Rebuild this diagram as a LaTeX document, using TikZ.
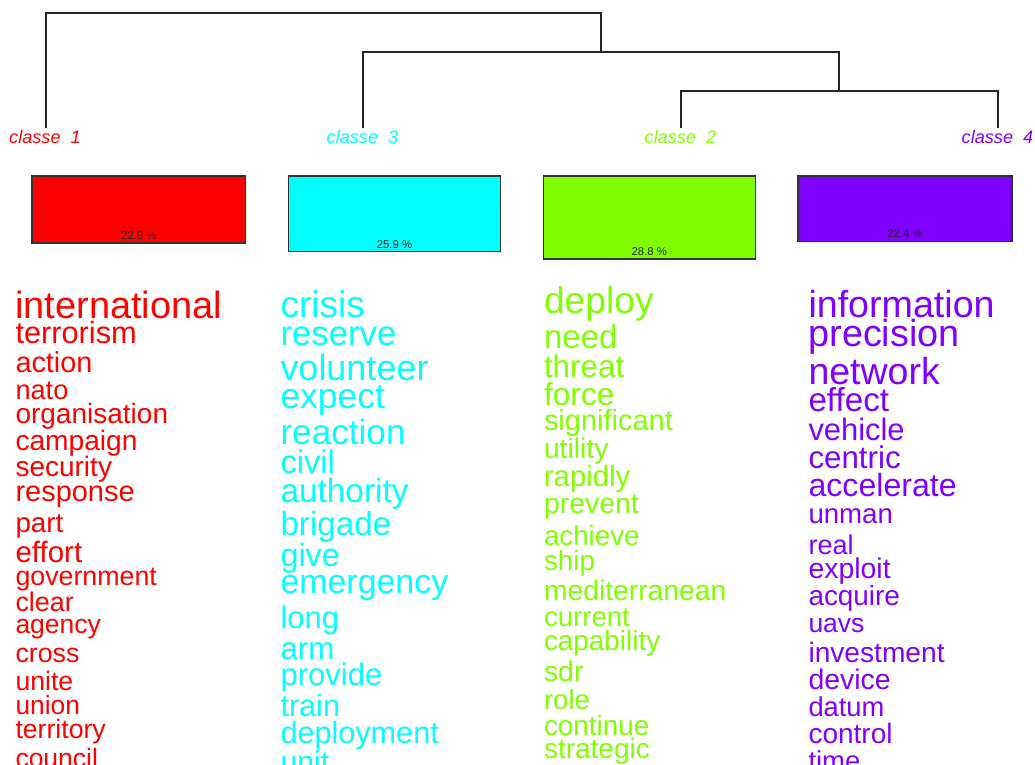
\documentclass[tikz,border=0pt]{standalone}
\usepackage{fontspec}
\setmainfont{Liberation Sans}
\definecolor{cA}{HTML}{FF0000}
\definecolor{cB}{HTML}{80FF00}
\definecolor{cC}{HTML}{00FFFF}
\definecolor{cD}{HTML}{8000FF}
\newcommand\fsz[1]{\fontsize{#1}{#1}\selectfont}
\tikzset{
  word/.style={anchor=base west, inner sep=0pt, outer sep=0pt, scale=1.03},
  clab/.style={anchor=base, inner sep=0pt, font=\fsz{13.6}\itshape},
  pbox/.style={draw=black!80, line width=0.8pt, inner sep=0pt},
  pct/.style={anchor=base, inner sep=0pt, font=\fsz{8.5}, text=black!85},
  dend/.style={draw=black!85, line width=0.9pt}
}
\begin{document}
\begin{tikzpicture}[x=0.75pt, y=-0.75pt]
\clip (0,0) rectangle (1035,764);
\fill[white] (0,0) rectangle (1035,764);
% dendrogram
\coordinate (l1) at (46,128);
\coordinate (l3) at (363,128);
\coordinate (l2) at (681,128);
\coordinate (l4) at (998,128);
\coordinate (t1) at (601,13);
\coordinate (t2) at (601,52);
\coordinate (t3) at (839,91);
\draw[dend] (l1) |- (t1) -- (t2);
\draw[dend] (l3) |- (t2) -| (t3);
\draw[dend] (l2) |- (t3) -| (l4);
% class labels
\node[clab, text=cA] (k1) at (45,143.3) {classe~~1};
\node[clab, text=cC] (k3) at (362.5,143.3) {classe~~3};
\node[clab, text=cB] (k2) at (680.5,143.3) {classe~~2};
\node[clab, text=cD] (k4) at (997.5,143.3) {classe~~4};
% boxes
\node[pbox, fill=cA, minimum width=160.3pt, minimum height=50.25pt] (b1) at (138.85,209.5) {};
\node[pbox, fill=cC, minimum width=158.7pt, minimum height=56.8pt] (b3) at (394.5,213.85) {};
\node[pbox, fill=cB, minimum width=159pt, minimum height=62.25pt] (b2) at (649.3,217.5) {};
\node[pbox, fill=cD, minimum width=160.5pt, minimum height=49pt] (b4) at (905,208.65) {};
\node[pct] (p1) at (138.85,239.5) {22.9 \%};
\node[pct] (p3) at (394.5,248) {25.9 \%};
\node[pct] (p2) at (649.3,255.5) {28.8 \%};
\node[pct] (p4) at (905,237) {22.4 \%};
% column 1
\begin{scope}[text=cA]
\node[word, font=\fsz{27.6}] (a1) at (15.5,318) {international};
\node[word, font=\fsz{22.4}] (a2) at (15.5,343.3) {terrorism};
\node[word, font=\fsz{21}] (a3) at (15.5,372.3) {action};
\node[word, font=\fsz{19.8}] (a4) at (15.5,399) {nato};
\node[word, font=\fsz{20.4}] (a5) at (15.5,423.3) {organisation};
\node[word, font=\fsz{20.5}] (a6) at (15.5,450) {campaign};
\node[word, font=\fsz{20.4}] (a7) at (15.5,476.7) {security};
\node[word, font=\fsz{21.1}] (a8) at (15.5,501.7) {response};
\node[word, font=\fsz{20.2}] (a9) at (15.5,532.7) {part};
\node[word, font=\fsz{21.5}] (a10) at (15.5,562.3) {effort};
\node[word, font=\fsz{19.5}] (a11) at (15.5,585) {government};
\node[word, font=\fsz{19.6}] (a12) at (15.5,611.7) {clear};
\node[word, font=\fsz{19.3}] (a13) at (15.5,633.3) {agency};
\node[word, font=\fsz{19.5}] (a14) at (15.5,662.3) {cross};
\node[word, font=\fsz{19.4}] (a15) at (15.5,690) {unite};
\node[word, font=\fsz{19.2}] (a16) at (15.5,714.3) {union};
\node[word, font=\fsz{19.4}] (a17) at (15.5,738.3) {territory};
\node[word, font=\fsz{19.3}] (a18) at (15.5,767) {council};
\end{scope}
% column 3
\begin{scope}[text=cC]
\node[word, font=\fsz{27}] (c1) at (280.5,317.3) {crisis};
\node[word, font=\fsz{25.3}] (c2) at (280.5,345) {reserve};
\node[word, font=\fsz{26.2}] (c3) at (280.5,380.7) {volunteer};
\node[word, font=\fsz{25.8}] (c4) at (280.5,408.3) {expect};
\node[word, font=\fsz{25.6}] (c5) at (280.5,444) {reaction};
\node[word, font=\fsz{23.8}] (c6) at (280.5,473.3) {civil};
\node[word, font=\fsz{24.3}] (c7) at (280.5,502.7) {authority};
\node[word, font=\fsz{24.2}] (c8) at (280.5,535) {brigade};
\node[word, font=\fsz{23.6}] (c9) at (280.5,566.7) {give};
\node[word, font=\fsz{24.7}] (c10) at (280.5,593.3) {emergency};
\node[word, font=\fsz{22.6}] (c11) at (280.5,628.3) {long};
\node[word, font=\fsz{22.8}] (c12) at (280.5,659) {arm};
\node[word, font=\fsz{22.6}] (c13) at (280.5,685.7) {provide};
\node[word, font=\fsz{22.3}] (c14) at (280.5,716.7) {train};
\node[word, font=\fsz{22.3}] (c15) at (280.5,743.3) {deployment};
\node[word, font=\fsz{22}] (c16) at (280.5,772) {unit};
\end{scope}
% column 2
\begin{scope}[text=cB]
\node[word, font=\fsz{27.1}] (g1) at (544,313.3) {deploy};
\node[word, font=\fsz{24.1}] (g2) at (544,348.3) {need};
\node[word, font=\fsz{22.9}] (g3) at (544,377.3) {threat};
\node[word, font=\fsz{23.1}] (g4) at (544,405) {force};
\node[word, font=\fsz{21.1}] (g5) at (544,430.7) {significant};
\node[word, font=\fsz{20.6}] (g6) at (544,458.3) {utility};
\node[word, font=\fsz{21.3}] (g7) at (544,486.7) {rapidly};
\node[word, font=\fsz{20.7}] (g8) at (544,513.3) {prevent};
\node[word, font=\fsz{20.2}] (g9) at (544,545) {achieve};
\node[word, font=\fsz{20.3}] (g10) at (544,570) {ship};
\node[word, font=\fsz{20.6}] (g11) at (544,600) {mediterranean};
\node[word, font=\fsz{20.1}] (g12) at (544,626.7) {current};
\node[word, font=\fsz{20.3}] (g13) at (544,650) {capability};
\node[word, font=\fsz{20.7}] (g14) at (544,681.7) {sdr};
\node[word, font=\fsz{20.1}] (g15) at (544,709) {role};
\node[word, font=\fsz{20.3}] (g16) at (544,735) {continue};
\node[word, font=\fsz{20.4}] (g17) at (544,758.3) {strategic};
\end{scope}
% column 4
\begin{scope}[text=cD]
\node[word, font=\fsz{27.4}] (d1) at (808.5,317.3) {information};
\node[word, font=\fsz{27.5}] (d2) at (808.5,346) {precision};
\node[word, font=\fsz{27.3}] (d3) at (808.5,384) {network};
\node[word, font=\fsz{24.2}] (d4) at (808.5,411.7) {effect};
\node[word, font=\fsz{22.5}] (d5) at (808.5,440) {vehicle};
\node[word, font=\fsz{22.8}] (d6) at (808.5,468.3) {centric};
\node[word, font=\fsz{23.4}] (d7) at (808.5,496.7) {accelerate};
\node[word, font=\fsz{20.1}] (d8) at (808.5,523) {unman};
\node[word, font=\fsz{19.7}] (d9) at (808.5,554) {real};
\node[word, font=\fsz{20.7}] (d10) at (808.5,578) {exploit};
\node[word, font=\fsz{20.3}] (d11) at (808.5,605) {acquire};
\node[word, font=\fsz{19.3}] (d12) at (808.5,632) {uavs};
\node[word, font=\fsz{20.5}] (d13) at (808.5,662) {investment};
\node[word, font=\fsz{20.7}] (d14) at (808.5,689) {device};
\node[word, font=\fsz{19.9}] (d15) at (808.5,716.7) {datum};
\node[word, font=\fsz{20.4}] (d16) at (808.5,743.3) {control};
\node[word, font=\fsz{20}] (d17) at (808.5,770) {time};
\end{scope}
\end{tikzpicture}
\end{document}
